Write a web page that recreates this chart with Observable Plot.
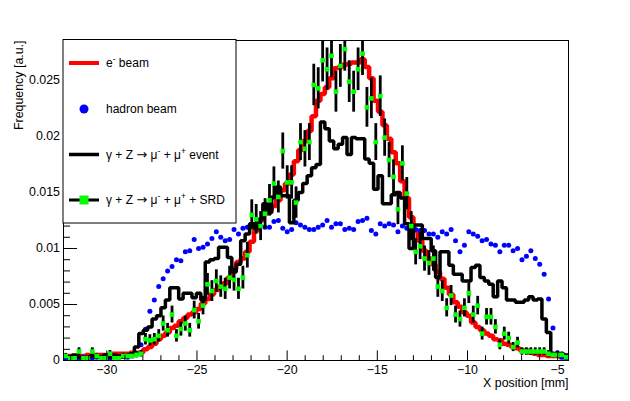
<!DOCTYPE html>
<html><head><meta charset="utf-8">
<script src="https://cdn.jsdelivr.net/npm/d3@7"></script>
<script src="https://cdn.jsdelivr.net/npm/@observablehq/plot@0.6"></script>
<style>
body{margin:0;background:#fff;}
#chart{width:630px;height:401px;}
</style></head><body><div id="chart"></div>
<script>
// ---- data (114 bins from -32.4 mm to -4.4 mm) ----
const xMin = -32.4, xMax = -4.4, nBins = 114;
const yMax = 0.02857;

const eBeam = [
0.0004,0.0004,0.0004,0.0004,0.0004,0.0005,0.0005,0.0005,0.0005,0.0005,0.0005,0.0006,0.0006,0.0006,0.0006,0.0007,0.0007,
0.0007,0.0010,0.0012,0.0015,0.0019,0.0022,0.0025,0.0029,0.0031,0.0035,0.0038,0.0041,0.0043,0.0046,0.0051,0.0055,0.0059,0.0063,0.0066,0.0069,0.0074,0.0082,0.0088,0.0091,0.0097,0.0106,0.0116,
0.0125,0.0131,0.0134,0.0138,0.0143,0.0152,0.0158,
0.0166,0.0178,0.0188,0.0196,0.0205,0.0218,0.0232,0.0238,0.0244,0.0252,0.0261,0.0262,0.0264,0.0265,0.0266,0.0266,0.0269,0.0262,0.0252,0.0232,0.0222,0.0210,0.0198,0.0186,0.0176,0.0160,0.0145,0.0128,0.0116,
0.0107,0.0098,0.0091,0.0086,0.0079,0.0073,0.0065,0.0059,0.0052,0.0048,0.0043,0.0040,0.0034,0.0030,0.0027,0.0024,0.0022,0.0019,0.0018,0.0015,0.0014,0.0012,0.0011,0.0009,0.0009,0.0007,0.0006,0.0005,0.0005,0.0004,0.0004,0.0004,0.0003,0.0003
];

const hadron = [
0.0002,0.0003,0.0002,0.0002,0.0003,0.0002,0.0002,0.0003,0.0002,0.0003,0.0002,0.0003,0.0003,0.0004,0.0003,0.0004,0.0006,0.0014,
0.0028,0.0044,0.0054,0.0066,0.0073,0.0080,0.0084,0.0090,0.0089,0.0097,0.0098,0.0108,0.0100,0.0101,0.0104,0.0109,0.0115,0.0110,0.0107,0.0108,0.0117,0.0113,0.0118,0.0119,
0.0121,0.0122,0.0120,0.0119,0.0119,0.0124,0.0125,0.0118,0.0115,0.0117,0.0123,0.0121,0.0119,0.0117,0.0117,0.0119,0.0121,0.0125,0.0119,0.0122,0.0122,0.0117,0.0118,0.0117,0.0124,0.0125,0.0127,
0.0116,0.0113,0.0122,0.0120,0.0122,0.0121,0.0115,0.0120,0.0118,0.0118,0.0117,0.0116,0.0116,0.0113,0.0113,0.0110,0.0115,0.0113,0.0117,0.0107,0.0097,0.0103,0.0115,0.0113,0.0111,0.0107,0.0108,0.0104,0.0103,0.0097,0.0103,0.0103,0.0098,0.0100,0.0090,0.0093,0.0098,0.0091,0.0086,0.0077,0.0055,0.0029,0.0007,0.0003,0.0002
];

const muEvent = [
0.0004,0.0003,0.0005,0.0003,0.0002,0.0003,0.0004,0.0003,0.0003,0.0005,0.0003,0.0005,0.0004,0.0003,0.0004,0.0006,0.0012,
0.0024,0.0027,0.0030,0.0037,0.0040,0.0047,0.0054,0.0065,0.0065,0.0055,0.0060,0.0060,0.0056,0.0060,0.0054,0.0088,0.0090,0.0091,0.0101,0.0101,0.0092,0.0079,0.0086,
0.0107,0.0113,0.0122,0.0118,0.0126,0.0140,0.0132,0.0146,0.0155,0.0147,0.0147,0.0123,0.0143,0.0150,0.0158,0.0165,0.0172,0.0175,0.0213,0.0207,0.0196,0.0189,0.0193,0.0199,0.0184,0.0199,0.0198,0.0198,0.0180,0.0176,0.0153,0.0165,0.0140,0.0140,0.0148,0.0150,0.0145,0.0122,0.0100,0.0121,0.0121,
0.0109,0.0109,0.0098,0.0074,0.0097,0.0097,0.0085,0.0077,0.0077,0.0071,0.0071,0.0083,0.0085,0.0074,0.0071,0.0068,0.0057,0.0071,0.0065,0.0054,0.0054,0.0052,0.0052,0.0054,0.0057,0.0054,0.0055,0.0037,0.0025,0.0006,0.0006,0.0006,0.0005
];

const srd = [
0.0004,0.0002,0.0002,0.0008,0.0002,0.0002,0.0008,0.0004,0.0002,0.0002,0.0006,0.0002,0.0002,0.0004,0.0004,0.0004,0.0005,0.0006,
0.0019,0.0018,0.0019,0.0022,0.0033,0.0027,0.0041,0.0022,0.0028,0.0033,0.0027,0.0045,0.0035,0.0049,0.0068,0.0062,0.0071,0.0066,0.0064,0.0074,0.0072,0.0064,0.0074,0.0094,
0.0130,0.0126,0.0120,0.0131,0.0143,0.0158,0.0146,0.0187,0.0159,0.0159,0.0141,0.0195,0.0189,0.0195,0.0246,0.0243,0.0268,0.0260,0.0272,0.0240,0.0263,0.0278,0.0249,0.0240,0.0260,0.0274,0.0226,0.0234,0.0195,0.0236,0.0199,0.0179,0.0164,0.0135,0.0176,0.0149,0.0120,
0.0097,0.0102,0.0091,0.0087,0.0091,0.0066,0.0062,0.0047,0.0058,0.0041,0.0037,0.0047,0.0060,0.0041,0.0049,0.0024,0.0039,0.0039,0.0030,0.0014,0.0024,0.0020,0.0012,0.0016,0.0008,0.0008,0.0008,0.0008,0.0008,0.0008,0.0006,0.0005,0.0005,0.0005,0.0003
];

const xTicks = [-30, -25, -20, -15, -10, -5];
const xTickLabels = ["\u221230", "\u221225", "\u221220", "\u221215", "\u221210", "\u22125"];
const yTicks = [0, 0.005, 0.01, 0.015, 0.02, 0.025];
const yTickLabels = ["0", "0.005", "0.01", "0.015", "0.02", "0.025"];
const xTitle = "X position [mm]";
const yTitle = "Frequency [a.u.]";
const legendLabels = ["e^{-} beam", "hadron beam", "\u03b3 + Z \u2192 \u03bc^{-} + \u03bc^{+} event", "\u03b3 + Z \u2192 \u03bc^{-} + \u03bc^{+} + SRD"];

// ---- derived tables ----
const w = (xMax - xMin) / nBins;
const centerOf = k => xMin + w * (k + 0.5);
function stepPoints(vals) {
  const pts = vals.map((v, k) => ({x: xMin + w * k, y: v}));
  pts.push({x: xMin + w * vals.length, y: vals[vals.length - 1]});
  return pts;
}
const hadronPts = hadron.map((v, k) => ({x: centerOf(k), y: v}));
// statistical (sqrt N) error of the normalised SRD histogram
const srdPts = srd.map((v, k) => {
  const e = 0.0118 * Math.sqrt(v);
  return {x: centerOf(k), y: v, lo: Math.max(0, v - e), hi: v + e};
});

const FONT = '"Liberation Sans", Arial, Helvetica, sans-serif';
const plotH = 401 - 40 - 41, plotW = 630 - 63 - 62;
const xMinor = d3.range(-32, -4, 1).filter(d => !xTicks.includes(d));
const yMinor = d3.range(1, 29).map(i => i / 1000).filter(d => !yTicks.some(t => Math.abs(t - d) < 1e-9));
const xTickLen = px => yMax * px / plotH;
const yTickLen = px => (xMax - xMin) * px / plotW;

const svg = Plot.plot({
  width: 630, height: 401,
  marginLeft: 63, marginRight: 62, marginTop: 40, marginBottom: 41,
  x: {domain: [xMin, xMax], axis: null},
  y: {domain: [0, yMax], axis: null},
  style: {fontFamily: FONT, fontSize: "12.4px", background: "white", color: "black", overflow: "visible"},
  marks: [
    Plot.line(stepPoints(eBeam), {x: "x", y: "y", curve: "step-after", stroke: "#ff0000", strokeWidth: 4.5, strokeLinejoin: "miter", clip: true}),
    Plot.dot(hadronPts, {x: "x", y: "y", r: 2.5, fill: "#0000ff", stroke: "none", clip: true}),
    Plot.line(stepPoints(muEvent), {x: "x", y: "y", curve: "step-after", stroke: "#000", strokeWidth: 3.5, strokeLinejoin: "miter", clip: true}),
    Plot.ruleX(srdPts, {x: "x", y1: "lo", y2: "hi", stroke: "#000", strokeWidth: 2.8, clip: true}),
    Plot.dot(srdPts, {x: "x", y: "y", symbol: "square", r: 2.6, fill: "#00ff00", stroke: "none", clip: true}),
    // ticks (inward, ROOT style)
    Plot.ruleX(xTicks, {x: d => d, y1: 0, y2: xTickLen(9.6), stroke: "#000"}),
    Plot.ruleX(xMinor, {x: d => d, y1: 0, y2: xTickLen(4.8), stroke: "#000"}),
    Plot.ruleY(yTicks, {y: d => d, x1: xMin, x2: xMin + yTickLen(14), stroke: "#000"}),
    Plot.ruleY(yMinor, {y: d => d, x1: xMin, x2: xMin + yTickLen(7), stroke: "#000"}),
    // tick labels
    Plot.text(xTicks, {x: d => d, y: 0, text: (d, i) => xTickLabels[i], dy: 9.5, fill: "#000"}),
    Plot.text(yTicks, {x: xMin, y: d => d, text: (d, i) => yTickLabels[i], textAnchor: "end", dx: -3.5, fill: "#000"}),
    // axis titles
    Plot.text([xTitle], {frameAnchor: "bottom-right", text: d => d, textAnchor: "end", dy: 26, fill: "#000"}),
    Plot.text([yTitle], {frameAnchor: "top-left", text: d => d, rotate: -90, textAnchor: "end", dx: -49.5, fill: "#000"}),
    Plot.frame({stroke: "#000", strokeWidth: 1})
  ]
});
document.getElementById("chart").appendChild(svg);

// ---- legend (ROOT TLegend) ----
const root = d3.select(svg);
const lg = root.append("g").attr("font-family", FONT).attr("font-size", "12px").attr("text-anchor", "start");
lg.append("rect").attr("x", 63).attr("y", 39.5).attr("width", 173).attr("height", 183.5)
  .attr("fill", "white").attr("stroke", "black").attr("stroke-width", 1);
const rows = [63, 109, 154.5, 200];
// tiny ROOT-latex: ^{..} superscripts, wide arrow glyph
function richText(g, x, y, s) {
  const t = g.append("text").attr("x", x).attr("y", y).attr("fill", "black").attr("text-anchor", "start");
  const parts = s.split(/(\^\{[^}]*\}|\u2192)/).filter(p => p.length);
  let shifted = false;
  for (const p of parts) {
    if (p.startsWith("^{")) {
      t.append("tspan").attr("dy", shifted ? 0 : -5).attr("font-size", "8.5px").text(p.slice(2, -1));
      shifted = true;
    } else {
      const sp = t.append("tspan").attr("dy", shifted ? 5 : 0).text(p);
      if (p === "\u2192") sp.attr("font-family", '"DejaVu Sans", sans-serif').attr("font-size", "13px");
      shifted = false;
    }
  }
}
// e- beam
lg.append("line").attr("x1", 69).attr("x2", 99).attr("y1", rows[0]).attr("y2", rows[0]).attr("stroke", "#ff0000").attr("stroke-width", 4);
// hadron beam
lg.append("circle").attr("cx", 84).attr("cy", rows[1]).attr("r", 4.5).attr("fill", "#0000ff");
// event
lg.append("line").attr("x1", 69).attr("x2", 99).attr("y1", rows[2]).attr("y2", rows[2]).attr("stroke", "#000").attr("stroke-width", 3.5);
// SRD
lg.append("line").attr("x1", 69).attr("x2", 99).attr("y1", rows[3]).attr("y2", rows[3]).attr("stroke", "#000").attr("stroke-width", 3);
lg.append("rect").attr("x", 79.5).attr("y", rows[3] - 4.5).attr("width", 9).attr("height", 9).attr("fill", "#00ff00");
legendLabels.forEach((s, i) => richText(lg, 106, rows[i] + 4.3, s));
</script>
</body></html>
